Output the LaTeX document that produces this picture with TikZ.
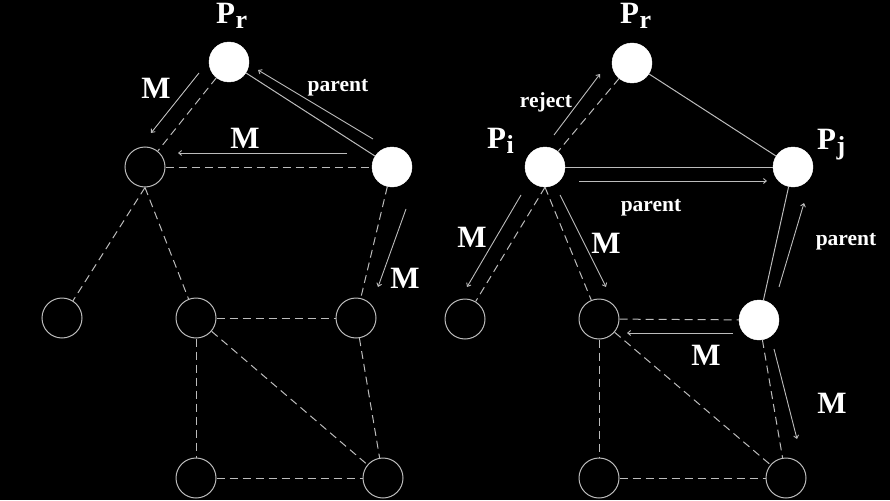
\documentclass[tikz,border=0pt]{standalone}
\usepackage{fontspec}
\setmainfont{Liberation Serif}
\usetikzlibrary{arrows.meta}
\definecolor{ln}{RGB}{188,188,188}
\newcommand{\Plab}[1]{P\kern0.5pt\raisebox{-5pt}{\fontsize{26}{26}\selectfont #1}}
\begin{document}
\begin{tikzpicture}[x=1pt,y=-1pt,
  empty/.style={circle,draw=ln,line width=1pt,minimum size=40pt,inner sep=0pt},
  full/.style={circle,fill=white,draw=white,minimum size=40pt,inner sep=0pt},
  dsh/.style={draw=ln,line width=1pt,dash pattern=on 8pt off 5pt},
  sol/.style={draw=ln,line width=1pt},
  arr/.style={draw=ln,line width=0.9pt,-{Straight Barb[length=3pt,width=5pt]}},
  big/.style={font=\fontsize{31}{31}\selectfont\bfseries,text=white,inner sep=0pt,anchor=base},
  sm/.style={font=\fontsize{21.5}{21.5}\selectfont\bfseries,text=white,inner sep=0pt,anchor=base},
  plab/.style={font=\fontsize{31}{31}\selectfont\bfseries,text=white,inner sep=0pt,anchor=base west}]
\fill[black] (0,0) rectangle (890,500);
\useasboundingbox (0,0) rectangle (890,500);
% ---------- left diagram ----------
\node[full]  (Pr) at (229,62) {};
\node[empty] (A)  at (145,167) {};
\node[full]  (B)  at (392,167) {};
\node[empty] (C)  at (62,318) {};
\node[empty] (D)  at (196,318) {};
\node[empty] (E)  at (356,318) {};
\node[empty] (F)  at (196,478) {};
\node[empty] (G)  at (383,478) {};
\path[dsh] (Pr) -- (A);
\path[dsh] (A) -- (B);
\path[sol] (Pr) -- (B);
\path[dsh] (A.south) -- (C);
\path[dsh] (A.south) -- (D);
\path[dsh] (B) -- (E);
\path[dsh] (D) -- (E);
\path[dsh] (D) -- (F);
\path[dsh] (D) -- (G);
\path[dsh] (E) -- (G);
\path[dsh] (F) -- (G);
\node[plab] (lPr) at (216,24) {\Plab{r}};
\coordinate (l1a) at (199,73);  \coordinate (l1b) at (151,133);
\coordinate (l2a) at (347,153); \coordinate (l2b) at (178,153);
\coordinate (l3a) at (373,139); \coordinate (l3b) at (258,70);
\coordinate (l4a) at (406,209); \coordinate (l4b) at (378,287);
\path[arr] (l1a) -- (l1b);
\path[arr] (l2a) -- (l2b);
\path[arr] (l3a) -- (l3b);
\path[arr] (l4a) -- (l4b);
\node[big] (m1) at (156,99) {M};
\node[big] (m2) at (245,148) {M};
\node[big] (m3) at (405,288) {M};
\node[sm]  (p1) at (338,92) {parent};
% ---------- right diagram ----------
\node[full]  (Qr) at (632,63) {};
\node[full]  (Qi) at (545,167) {};
\node[full]  (Qj) at (793,167) {};
\node[empty] (QC) at (465,319) {};
\node[empty] (QD) at (599,319) {};
\node[full]  (QE) at (759,320) {};
\node[empty] (QF) at (599,478) {};
\node[empty] (QG) at (786,478) {};
\path[dsh] (Qr) -- (Qi);
\path[sol] (Qr) -- (Qj);
\path[sol] (Qi) -- (Qj);
\path[dsh] (Qi.south) -- (QC);
\path[dsh] (Qi.south) -- (QD);
\path[sol] (Qj) -- (QE);
\path[dsh] (QD) -- (QE);
\path[dsh] (QD) -- (QF);
\path[dsh] (QD) -- (QG);
\path[dsh] (QE) -- (QG);
\path[dsh] (QF) -- (QG);
\node[plab] (rPr) at (620,24) {\Plab{r}};
\node[plab] (rPi) at (487,148) {\Plab{i}};
\node[plab] (rPj) at (817,149) {\Plab{j}};
\coordinate (r1a) at (554,135); \coordinate (r1b) at (600,74);
\coordinate (r2a) at (579,181); \coordinate (r2b) at (767,181);
\coordinate (r3a) at (521,195); \coordinate (r3b) at (467,287);
\coordinate (r4a) at (560,195); \coordinate (r4b) at (606,287);
\coordinate (r5a) at (779,287); \coordinate (r5b) at (804,203);
\coordinate (r6a) at (733,333); \coordinate (r6b) at (627,333);
\coordinate (r7a) at (774,349); \coordinate (r7b) at (797,439);
\path[arr] (r1a) -- (r1b);
\path[arr] (r2a) -- (r2b);
\path[arr] (r3a) -- (r3b);
\path[arr] (r4a) -- (r4b);
\path[arr] (r5a) -- (r5b);
\path[arr] (r6a) -- (r6b);
\path[arr] (r7a) -- (r7b);
\node[sm]  (rej) at (546,107) {reject};
\node[sm]  (p2) at (651,211) {parent};
\node[sm]  (p3) at (846,245) {parent};
\node[big] (m4) at (472,247) {M};
\node[big] (m5) at (606,253) {M};
\node[big] (m6) at (706,365) {M};
\node[big] (m7) at (832,413) {M};
\end{tikzpicture}
\end{document}
